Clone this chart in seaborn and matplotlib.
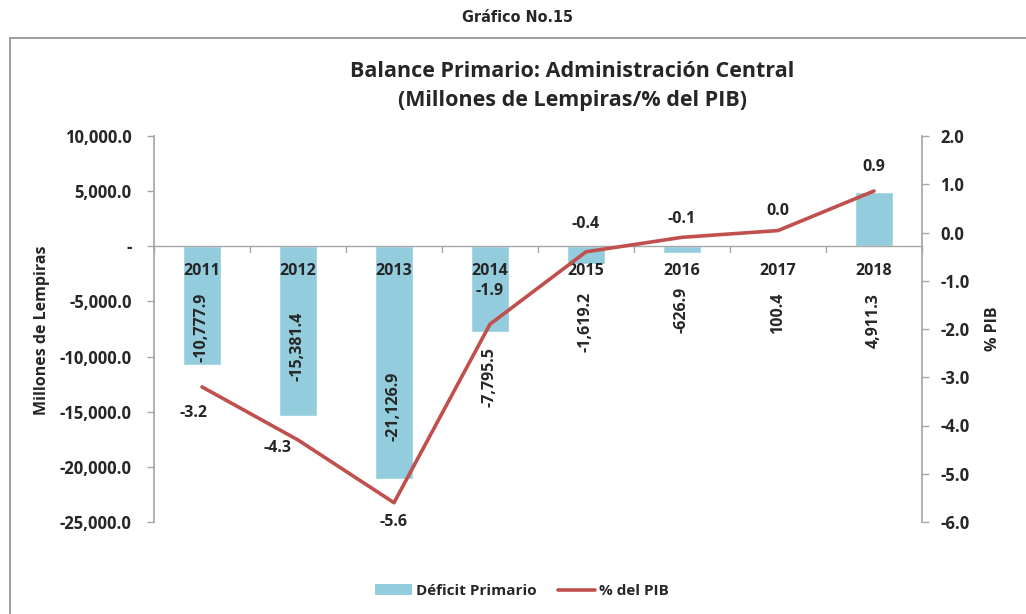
import matplotlib
matplotlib.use("Agg")
import matplotlib.pyplot as plt
import numpy as np
import seaborn as sns
from matplotlib.patches import Rectangle, Patch
from matplotlib.lines import Line2D
from matplotlib.ticker import FuncFormatter, MultipleLocator

years = ["2011", "2012", "2013", "2014", "2015", "2016", "2017", "2018"]
deficit = [-10777.9, -15381.4, -21126.9, -7795.5, -1619.2, -626.9, 100.4, 4911.3]
pct_pib = [-3.2, -4.3, -5.6, -1.9, -0.4, -0.1, 0.04, 0.86]
pct_labels = ["-3.2", "-4.3", "-5.6", "-1.9", "-0.4", "-0.1", "0.0", "0.9"]

# where Excel put the rotated bar labels (centre, in millions)
bar_label_y = [-7340, -9070, -14500, -11880, -6890, -5800, -6070, -6710]
# where the % labels sit relative to the point (dx, dy in points)
pct_offsets = [(-6, -19), (-15, -6), (0, -14), (0, 24), (0, 20), (0, 13), (0, 14), (0, 17)]

sns.set_theme(style="white")
plt.rcParams["font.family"] = ["Open Sans", "DejaVu Sans"]
plt.rcParams["font.weight"] = "bold"

bar_color = "#93CDDD"
line_color = "#C0504D"
axis_gray = "#A6A6A6"
fs = 11.5
tick_fs = 12

fig = plt.figure(figsize=(10.26, 6.14), dpi=100)
fig.patch.set_facecolor("white")

# outer frame of the chart object
fig.add_artist(Rectangle((10 / 1026, -0.05), 1.1, 1 - 38 / 614 + 0.05,
                         transform=fig.transFigure, fill=False,
                         edgecolor="#8C8C8C", linewidth=1.2))

fig.text(517 / 1026, 1 - 18 / 614, "Gráfico No.15", ha="center", va="center",
         fontsize=11.5, fontweight="bold", fontstretch="condensed",
         family=["DejaVu Sans"])
fig.text(572 / 1026, 1 - 86 / 614,
         "Balance Primario: Administración Central\n(Millones de Lempiras/% del PIB)",
         ha="center", va="center", fontsize=15.5, fontweight="bold", linespacing=1.5)

ax = fig.add_axes([154 / 1026, 1 - 522 / 614, 768 / 1026, 386 / 614])
x = np.arange(len(years))
sns.barplot(x=x, y=deficit, color=bar_color, width=0.4, saturation=1, ax=ax,
            native_scale=True)

ax.set_xlim(-0.5, len(years) - 0.5)
ax.set_ylim(-25000, 10000)
ax.yaxis.set_major_locator(MultipleLocator(5000))
ax.yaxis.set_major_formatter(FuncFormatter(lambda v, p: "-" if v == 0 else f"{v:,.1f}"))
ax.set_xticks(np.arange(-0.5, len(years), 1.0))
ax.set_xticklabels([])
ax.tick_params(axis="x", length=0)
ax.tick_params(axis="y", length=5, width=1, color=axis_gray, direction="out",
               labelsize=tick_fs, pad=11, left=True)
for lab in ax.get_yticklabels():
    lab.set_fontweight("bold")
for s in ["top", "right", "bottom"]:
    ax.spines[s].set_visible(False)
ax.spines["left"].set_color(axis_gray)
ax.axhline(0, color=axis_gray, linewidth=1, zorder=1)
for b in np.arange(-0.5, len(years), 1.0):
    ax.plot([b, b], [0, -550], color=axis_gray, linewidth=1, clip_on=False)
ax.set_ylabel("Millones de Lempiras", fontsize=fs, fontweight="bold")
ax.yaxis.set_label_coords(-104 / 768, 0.497)

for i, yr in enumerate(years):
    ax.annotate(yr, (i, 0), xytext=(0, -18), textcoords="offset points",
                ha="center", va="center", fontsize=fs, fontweight="bold")
    ax.text(i, bar_label_y[i], f"{deficit[i]:,.1f}", rotation=90, ha="center",
            va="center", fontsize=fs, fontweight="bold")

ax2 = ax.twinx()
sns.lineplot(x=x, y=pct_pib, color=line_color, linewidth=2.6, ax=ax2)
ax2.set_ylim(-6, 2)
ax2.yaxis.set_major_locator(MultipleLocator(1))
ax2.yaxis.set_major_formatter(FuncFormatter(lambda v, p: f"{v:.1f}"))
ax2.tick_params(axis="y", length=5, width=1, color=axis_gray, direction="out",
                labelsize=tick_fs, pad=8, right=True)
for lab in ax2.get_yticklabels():
    lab.set_fontweight("bold")
for s in ["top", "left", "bottom"]:
    ax2.spines[s].set_visible(False)
ax2.spines["right"].set_color(axis_gray)
ax2.set_ylabel("% PIB", fontsize=fs, fontweight="bold", rotation=90)
ax2.yaxis.set_label_coords(1 + 63 / 768, 0.5)

for i, (v, t) in enumerate(zip(pct_pib, pct_labels)):
    ax2.annotate(t, (i, v), xytext=pct_offsets[i], textcoords="offset points",
                 ha="center", va="center", fontsize=fs, fontweight="bold")

handles = [Patch(facecolor=bar_color, edgecolor="none", label="Déficit Primario"),
           Line2D([0], [0], color=line_color, linewidth=2.6, label="% del PIB")]
fig.legend(handles=handles, loc="center", bbox_to_anchor=(522 / 1026, 1 - 591 / 614),
           ncol=2, frameon=False, handlelength=2.4,
           handletextpad=0.3, columnspacing=1.4, prop={"weight": "bold", "size": 11})

fig.savefig("out.png", dpi=100)
